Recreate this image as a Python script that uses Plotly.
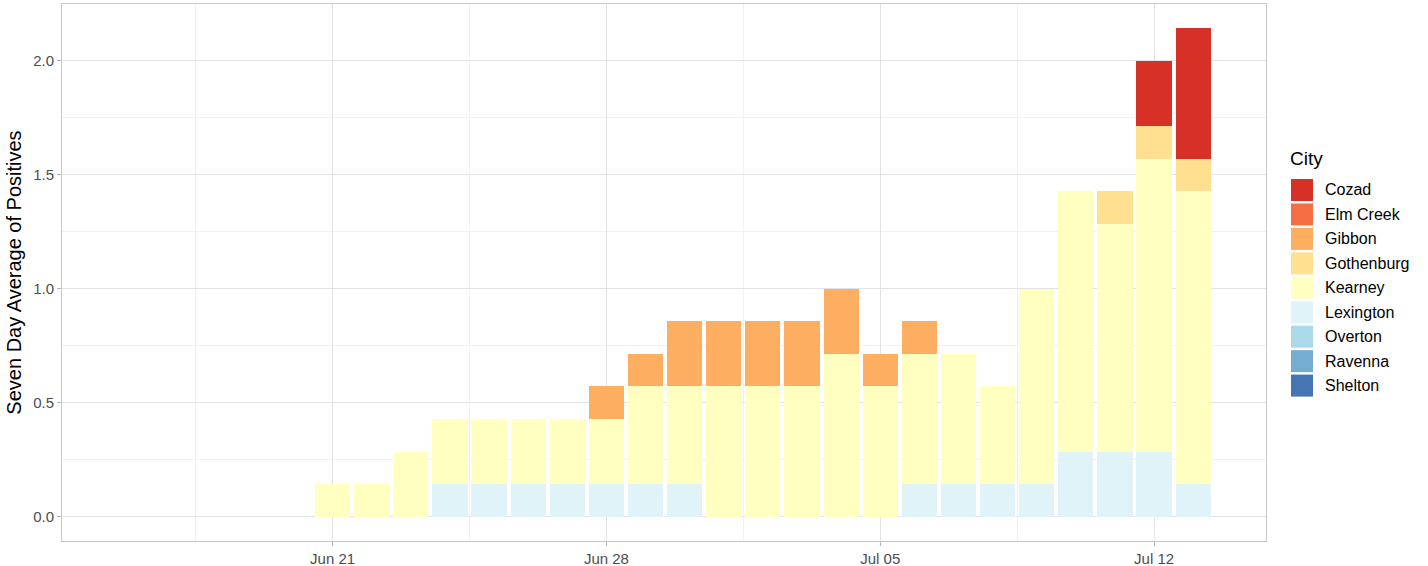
import plotly.graph_objects as go

dates = ["2020-06-21","2020-06-22","2020-06-23","2020-06-24","2020-06-25","2020-06-26","2020-06-27",
         "2020-06-28","2020-06-29","2020-06-30","2020-07-01","2020-07-02","2020-07-03","2020-07-04",
         "2020-07-05","2020-07-06","2020-07-07","2020-07-08","2020-07-09","2020-07-10","2020-07-11",
         "2020-07-12","2020-07-13"]

cities = ["Cozad","Elm Creek","Gibbon","Gothenburg","Kearney","Lexington","Overton","Ravenna","Shelton"]
colors = ["#D73027","#F46D43","#FDAE61","#FEE090","#FFFFBF","#E0F3F8","#ABD9E9","#74ADD1","#4575B4"]

# counts of positives over 7 days (average = count / 7)
cozad      = [0,0,0,0,0,0,0,0,0,0,0,0,0,0,0,0,0,0,0,0,0,2,4]
elm_creek  = [0]*23
gibbon     = [0,0,0,0,0,0,0,1,1,2,2,2,2,2,1,1,0,0,0,0,0,0,0]
gothenburg = [0,0,0,0,0,0,0,0,0,0,0,0,0,0,0,0,0,0,0,0,1,1,1]
kearney    = [1,1,2,2,2,2,2,2,3,3,4,4,4,5,4,4,4,3,6,8,7,9,9]
lexington  = [0,0,0,1,1,1,1,1,1,1,0,0,0,0,0,1,1,1,1,2,2,2,1]
overton    = [0]*23
ravenna    = [0]*23
shelton    = [0]*23

series = {"Cozad": cozad, "Elm Creek": elm_creek, "Gibbon": gibbon, "Gothenburg": gothenburg,
          "Kearney": kearney, "Lexington": lexington, "Overton": overton, "Ravenna": ravenna,
          "Shelton": shelton}

fig = go.Figure()
# ggplot stacks first level on top -> add in reverse order
for city, col in reversed(list(zip(cities, colors))):
    vals = [v / 7 for v in series[city]]
    fig.add_trace(go.Bar(x=dates, y=vals, name=city, marker_color=col,
                         marker_line_width=0, width=0.9 * 86400000, showlegend=False))

W, H = 1428, 566
L, R, T, B = 62, 1266, 4, 541

def px_x(p):
    return (p - L) / (R - L)

def px_y(p):
    return (B - p) / (B - T)

shapes = []
annotations = []
# manual ggplot-style legend
annotations.append(dict(text="City", x=px_x(1288), y=px_y(159), xref="paper", yref="paper",
                        xanchor="left", yanchor="middle", showarrow=False,
                        font=dict(size=19, color="black")))
for i, (city, col) in enumerate(zip(cities, colors)):
    cy = 190 + i * 24.45
    shapes.append(dict(type="rect", xref="paper", yref="paper",
                       x0=px_x(1291), x1=px_x(1313), y0=px_y(cy - 11), y1=px_y(cy + 11),
                       fillcolor=col, line=dict(width=0)))
    annotations.append(dict(text=city, x=px_x(1323), y=px_y(cy), xref="paper", yref="paper",
                            xanchor="left", yanchor="middle", showarrow=False,
                            font=dict(size=16, color="black")))

fig.update_layout(
    barmode="stack",
    bargap=0,
    width=W, height=H,
    margin=dict(l=L, r=W - R, t=T, b=H - B, autoexpand=False),
    plot_bgcolor="white", paper_bgcolor="white",
    font=dict(family="Liberation Sans, Arial, sans-serif"),
    shapes=shapes, annotations=annotations,
    showlegend=False,
)

fig.update_xaxes(
    type="date", automargin=False,
    range=["2020-06-14 02:00", "2020-07-14 20:40"],
    tick0="2020-06-21", dtick=7 * 86400000, tickformat="%b %d",
    showgrid=True, gridcolor="#E3E3E3", gridwidth=1,
    minor=dict(tick0="2020-06-17 12:00", dtick=7 * 86400000, showgrid=True,
               gridcolor="#F1F1F1", gridwidth=1),
    ticks="outside", ticklen=4, tickcolor="#B3B3B3",
    tickfont=dict(size=15, color="#4D4D4D"),
    showline=True, linecolor="#C8C8C8", linewidth=1, mirror=True,
    zeroline=False,
)
fig.update_yaxes(
    automargin=False,
    range=[-0.1071, 2.25],
    tick0=0, dtick=0.5, tickformat=".1f",
    showgrid=True, gridcolor="#E3E3E3", gridwidth=1,
    minor=dict(tick0=0.25, dtick=0.5, showgrid=True, gridcolor="#F1F1F1", gridwidth=1),
    ticks="outside", ticklen=4, tickcolor="#B3B3B3",
    tickfont=dict(size=15, color="#4D4D4D"),
    title=dict(text="Seven Day Average of Positives", font=dict(size=20, color="black"), standoff=6),
    showline=True, linecolor="#C8C8C8", linewidth=1, mirror=True,
    zeroline=False,
)

fig.write_html("out.html", config={"displayModeBar": False},
               post_script="document.body.style.margin='0';document.body.style.overflow='hidden';")
